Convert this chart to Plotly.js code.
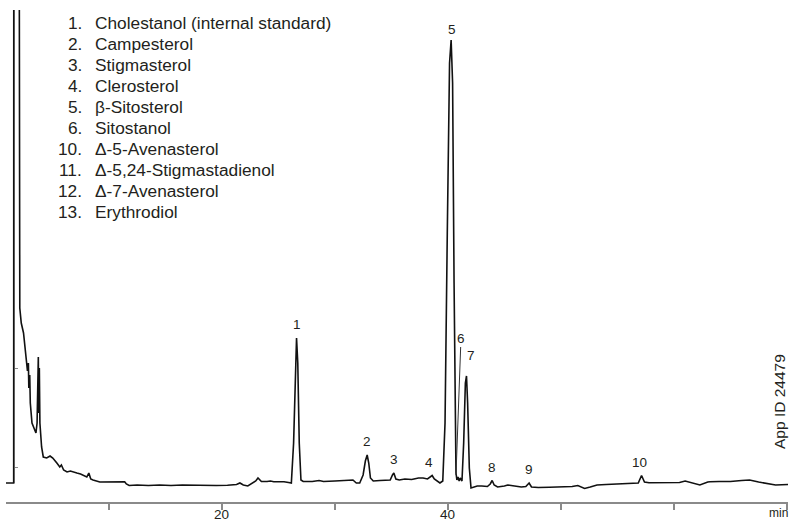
<!DOCTYPE html>
<html>
<head>
<meta charset="utf-8">
<script src="https://cdn.plot.ly/plotly-3.0.1.min.js"></script>
<style>
  html, body { margin: 0; padding: 0; background: #ffffff; }
  #chart { width: 790px; height: 521px; }
</style>
</head>
<body>
<div id="chart"></div>
<script>
// Retention time (min) and detector signal (arbitrary units)
const timeMin = [
  0.9, 1.5, 1.58, 1.59, 2.05, 2.12, 2.25, 2.45, 2.6, 2.8, 2.88, 2.92, 3.0, 3.05, 3.2, 3.4, 3.55, 3.65,
  3.72, 3.76, 3.8, 3.85, 3.9, 4.05, 4.2, 4.5, 4.8, 5.04, 5.4, 5.66, 5.8, 6.0, 6.3, 6.6, 7.17, 7.5,
  8.05, 8.23, 8.4, 8.6, 9.2, 10.0, 10.5, 11.0, 11.4, 11.55, 11.8, 12.5, 13.5, 14.5, 15.5, 16.5,
  17.5, 18.5, 19.5, 20.5, 21.3, 21.6, 21.9, 22.3, 22.7, 23.0, 23.2, 23.5, 24.0, 24.3, 24.6, 25.0,
  25.5, 25.9, 26.15, 26.35, 26.5, 26.61, 26.72, 26.85, 27.0, 27.2, 27.5, 28.0, 28.6, 29.0, 30.0,
  31.0, 31.6, 31.9, 32.2, 32.5, 32.7, 32.86, 33.0, 33.15, 33.4, 34.0, 34.6, 34.9, 35.1, 35.22,
  35.4, 35.7, 36.2, 36.8, 37.4, 37.8, 38.2, 38.45, 38.61, 38.8, 39.1, 39.3, 39.55, 39.75, 39.95,
  40.15, 40.29, 40.42, 40.55, 40.65, 40.72, 40.8, 40.9, 41.0, 41.1, 41.25, 41.4, 41.55, 41.65,
  41.75, 41.9, 42.05, 42.3, 42.6, 43.0, 43.5, 43.75, 43.92, 44.1, 44.4, 45.0, 45.3, 45.6, 46.0,
  46.5, 46.9, 47.19, 47.4, 48.0, 49.0, 50.0, 51.0, 51.5, 52.1, 52.6, 53.2, 54.0, 55.0, 56.0,
  56.6, 56.85, 57.14, 57.4, 57.8, 58.5, 59.5, 60.5, 61.0, 61.3, 62.3, 63.0, 63.2, 64.0, 65.0,
  66.0, 66.7, 67.5, 68.0, 69.0, 70.1
];
const signal = [
  0, 0, 0, 700, 700, 175, 160, 150, 130, 112, 120, 95, 108, 80, 60, 55, 50, 60,
  110, 126, 70, 115, 60, 36, 26, 25, 27, 25, 20, 16, 18, 13, 11, 12, 10, 9,
  6, 10, 4, 3, 1, 1.3, 1.5, 1, 1.3, -1, -2.5, -2, -2.5, -2, -2.5, -2,
  -2.3, -2.5, -2.5, -2.3, -1.5, 0, -2, -3, 0, 2, 5, 1.5, 1.5, 2, 1.3, 1.5,
  1.3, 0.5, 0, 40, 120, 145, 120, 40, 3, 1.5, 1.5, 1.5, 2.5, 1.5, 2,
  2.5, 3, 0, 0, 8, 22, 28, 20, 5, 2, 2.5, 2.5, 3, 8, 10,
  4, 3, 4, 3.5, 5, 5, 4, 6, 7.5, 4, 1, 0, 2, 60, 250,
  420, 443, 400, 200, 30, 10, 3, 6, 2, 5, 2, 40, 100, 107,
  80, 15, -5, -4, -3, -3, -3.5, -1, 2.5, -2, -4, -3, -2, -2.5, -3,
  -4, -3.5, 0, -4, -4.5, -4.2, -4, -3.5, -2.5, -5.5, -4, -2, -1.5, -1, -0.5,
  0.5, 0, 7.5, 1, 0.3, 0.3, 0.5, 0.5, 2, 1, -2, 1, 1.3, 1.5, 1.5,
  2.5, 3, 1, 0, -2, -1.5
];

// Peak labels on the trace
const peakLabels = ['1', '2', '3', '4', '5', '7', '8', '9', '10'];
const peakTimes  = [26.61, 32.86, 35.22, 38.61, 40.29, 41.65, 43.92, 47.19, 57.14];
const peakTops   = [145, 28, 10, 7.5, 443, 107, 2.5, 0, 7.5];
// Peak 6 is pointed to by a leader line
const peak6Label = '6';
const peak6Time = 40.72;
const peak6Signal = 8;

// Compound list
const compoundNums = ['1.', '2.', '3.', '4.', '5.', '6.', '10.', '11.', '12.', '13.'];
const compoundNames = [
  'Cholestanol (internal standard)', 'Campesterol', 'Stigmasterol', 'Clerosterol',
  'β-Sitosterol', 'Sitostanol', 'Δ-5-Avenasterol', 'Δ-5,24-Stigmastadienol',
  'Δ-7-Avenasterol', 'Erythrodiol'
];

// Axis ticks
const xTickVals = [10, 20, 30, 40, 50, 60, 70];
const xTickText = ['', '20', '', '40', '', '', ''];
const yTickVals = [16, 115];
const yAxisTop = 473;

const FONT = '"Liberation Sans", Arial, Helvetica, sans-serif';
const TXT = '#231f20';
const AXC = '#8a8a8a';

const W = 790, H = 521;
const mL = 6, mR = 2, mT = 10, mB = 19;
const pw = W - mL - mR, ph = H - mT - mB;
const px2paperX = px => (px - mL) / pw;
const px2paperY = py => (H - mB - py) / ph;

const annotations = [];
peakLabels.forEach((lab, i) => {
  const extra = { '4': [-3, 4], '7': [4, 11], '10': [-2, 4], '5': [1, 1] }[lab] || [0, 4];
  annotations.push({
    x: peakTimes[i], y: peakTops[i], xref: 'x', yref: 'y',
    text: lab, showarrow: false, xanchor: 'center', yanchor: 'bottom',
    xshift: extra[0], yshift: extra[1],
    font: { family: FONT, size: 13.5, color: TXT }
  });
});
annotations.push({
  x: peak6Time, y: peak6Signal, xref: 'x', yref: 'y',
  text: peak6Label, showarrow: true, arrowhead: 0, arrowwidth: 1, arrowcolor: '#333',
  ax: 5, ay: -137, standoff: 0,
  font: { family: FONT, size: 13.5, color: TXT }
});

// x tick labels drawn just under the axis
xTickVals.forEach((v, i) => {
  if (!xTickText[i]) return;
  annotations.push({
    x: v, y: px2paperY(514), xref: 'x', yref: 'paper',
    text: xTickText[i], showarrow: false, xanchor: 'center', yanchor: 'middle',
    font: { family: FONT, size: 13.5, color: TXT }
  });
});

compoundNums.forEach((n, i) => {
  const ypx = 23 + 21 * i;
  annotations.push({
    x: px2paperX(84), y: px2paperY(ypx), xref: 'paper', yref: 'paper',
    text: n, showarrow: false, xanchor: 'right', yanchor: 'middle',
    font: { family: FONT, size: 17.3, color: TXT }
  });
  annotations.push({
    x: px2paperX(93), y: px2paperY(ypx), xref: 'paper', yref: 'paper',
    text: compoundNames[i], showarrow: false, xanchor: 'left', yanchor: 'middle',
    font: { family: FONT, size: 17.3, color: TXT }
  });
});

annotations.push({
  x: px2paperX(778), y: px2paperY(513), xref: 'paper', yref: 'paper',
  text: 'min', showarrow: false, xanchor: 'center', yanchor: 'middle',
  font: { family: FONT, size: 12, color: TXT }
});
annotations.push({
  x: px2paperX(779), y: px2paperY(402), xref: 'paper', yref: 'paper',
  text: 'App ID 24479', showarrow: false, textangle: -90,
  xanchor: 'center', yanchor: 'middle',
  font: { family: FONT, size: 15.5, color: TXT }
});

const trace = {
  x: timeMin, y: signal, type: 'scatter', mode: 'lines',
  line: { color: '#111111', width: 1.6 },
  hoverinfo: 'skip', showlegend: false
};

const layout = {
  width: W, height: H,
  margin: { l: mL, r: mR, t: mT, b: mB, pad: 0 },
  paper_bgcolor: '#ffffff', plot_bgcolor: '#ffffff',
  showlegend: false,
  xaxis: {
    range: [0.9, 70.1],
    showgrid: false, zeroline: false,
    showline: true, linecolor: AXC, linewidth: 2,
    ticks: 'outside', ticklen: 6, tickwidth: 1.5, tickcolor: AXC,
    tickmode: 'array', tickvals: xTickVals, showticklabels: false,
    automargin: false
  },
  yaxis: {
    range: [-19, yAxisTop],
    anchor: 'free', position: px2paperX(14),
    showgrid: false, zeroline: false, showline: false,
    ticks: 'inside', ticklen: 3, tickwidth: 1, tickcolor: AXC,
    tickmode: 'array', tickvals: yTickVals, showticklabels: false,
    automargin: false
  },
  shapes: [{
    type: 'line', xref: 'paper', yref: 'y',
    x0: px2paperX(14), x1: px2paperX(14), y0: 0, y1: yAxisTop,
    line: { color: AXC, width: 1.5 }, layer: 'below'
  }],
  annotations: annotations
};

Plotly.newPlot('chart', [trace], layout, { staticPlot: true, displayModeBar: false });
</script>
</body>
</html>
